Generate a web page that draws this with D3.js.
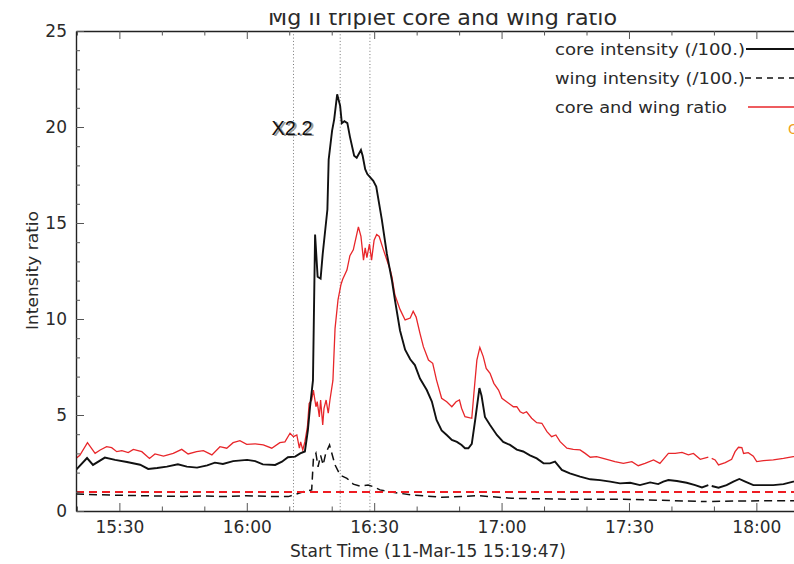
<!DOCTYPE html>
<html>
<head>
<meta charset="utf-8">
<script src="https://cdn.jsdelivr.net/npm/d3@7"></script>
<style>
  html, body { margin: 0; padding: 0; background: #fff; overflow: hidden; }
  svg text { font-family: "DejaVu Sans", sans-serif; fill: #2a2a2a; }
</style>
</head>
<body>
<div id="app"></div>
<script>
// minutes after the start time (11-Mar-15 15:19:47)
const startTime = new Date(2015, 2, 11, 15, 19, 47)

const coreMin = [0,2.6,4.0,6.8,9.2,12.0,15.1,17.0,19.1,21.4,24.0,26.1,28.5,30.9,32.7,34.6,37.0,40.3,42.2,44.0,
  46.9,48.5,49.9,51.6,52.8,53.9,54.6,55.1,55.8,56.3,56.9,57.6,58.1,59.2,59.5,60.3,60.8,61.5,62.2,62.6,
  63.2,63.9,64.5,65.5,66.1,67.1,67.5,68.1,68.6,70.0,70.7,72.0,73.2,74.4,75.1,76.3,77.5,78.7,79.8,81.0,
  82.6,83.8,84.9,86.1,87.3,88.5,89.7,90.8,91.6,92.4,93.2,94.0,95.0,95.5,96.3,97.5,99.1,100.6,102.2,103.8,
  105.3,106.9,108.5,110.1,111.6,112.8,114.4,116.3,118.7,121.1,123.4,125.8,128.1,130.5,132.8,135.2,137.1,138.3,139.5,141.5,
  143.8,145.8,147.4,148.9,149.3,149.7,151.3,153.2,154.8,156.2,157.6,159.5,161.9,164.2,166.6,168.9,171.0]
const coreVal = [2.14,2.76,2.4,2.78,2.66,2.55,2.41,2.19,2.24,2.31,2.43,2.31,2.26,2.38,2.52,2.45,2.6,2.66,2.6,2.43,
  2.4,2.57,2.8,2.83,3.0,3.1,4.2,5.4,6.8,14.4,12.2,12.1,13.4,15.7,18.3,19.8,20.4,21.7,21.1,20.2,
  20.3,20.2,19.5,18.5,18.4,18.8,18.5,17.8,17.55,17.2,16.9,15.2,13.4,12.0,11.0,9.4,8.4,7.9,7.6,6.9,
  6.3,5.7,4.74,4.2,3.96,3.7,3.6,3.44,3.27,3.27,3.5,4.74,6.4,6.0,4.9,4.48,3.96,3.6,3.44,3.2,
  3.1,2.9,2.74,2.48,2.48,2.57,2.14,1.96,1.79,1.65,1.61,1.53,1.44,1.47,1.35,1.49,1.4,1.53,1.61,1.56,
  1.47,1.35,1.23,1.35,null,1.3,1.21,1.35,1.53,1.67,1.53,1.35,1.35,1.35,1.4,1.53,1.55]

const wingMin = [0,5,10,15,20,25,30,35,40,45,50,51.5,53.5,55.5,55.9,56.5,57.0,57.6,58.2,58.8,
  59.7,61.0,62.2,63.8,65.3,66.9,68.8,70.0,71.6,74.0,76.3,79.4,82.6,86.1,94.7,102.6,113.6,120.7,128.9,140.7,
  148.5,149.3,149.8,156.4,168.2,171.0]
const wingVal = [0.88,0.85,0.82,0.8,0.78,0.76,0.78,0.75,0.8,0.76,0.75,0.85,1.0,1.1,2.7,3.0,2.3,2.9,2.4,3.0,
  3.44,2.4,1.87,1.7,1.4,1.3,1.35,1.27,1.1,1.0,0.92,0.83,0.78,0.71,0.8,0.66,0.62,0.61,0.61,0.54,
  0.49,null,0.5,0.52,0.54,0.54]

const ratioMin = [0.0,0.9,2.7,4.5,5.7,7.2,8.4,9.6,10.8,12.3,13.5,15.5,17.3,18.6,20.6,22.9,24.9,26.4,28.4,30.0,
  32.0,33.9,35.5,37.0,38.6,40.2,42.2,44.1,46.1,48.0,49.2,50.4,51.2,52.0,52.6,52.9,53.4,53.9,54.5,54.9,
  55.5,55.9,56.5,56.8,57.3,57.6,58.1,58.4,58.9,59.4,59.8,60.5,61.0,61.7,62.4,62.8,63.8,64.5,65.3,66.5,
  67.1,67.7,68.1,68.5,69.1,69.6,70.2,70.8,71.4,72.4,74.0,74.4,75.1,76.3,77.5,78.7,79.4,80.1,81.0,81.8,
  83.0,84.0,84.9,86.1,87.3,88.5,89.5,90.3,90.8,91.6,93.2,93.7,94.4,95.1,95.9,96.6,97.5,98.4,99.5,100.3,
  101.4,103.0,103.8,104.6,105.3,106.1,107.3,108.5,109.7,110.9,112.0,113.0,114.0,115.6,117.1,118.7,119.9,121.1,122.6,125.0,
  126.9,128.9,130.9,132.4,134.0,136.0,137.5,139.5,141.1,142.7,144.2,145.4,147.0,148.9,149.3,149.7,150.5,151.3,152.9,154.4,
  155.2,156.0,156.8,157.2,158.3,159.5,160.3,161.9,164.2,166.6,168.9,171.0]
const ratioVal = [2.74,2.9,3.56,3.0,3.18,3.35,3.3,3.09,3.14,3.04,3.21,3.09,2.74,2.97,2.86,3.0,3.21,2.97,3.09,3.14,
  2.92,3.35,3.27,3.56,3.66,3.47,3.5,3.44,3.27,3.56,3.6,4.05,3.87,3.96,3.27,3.6,3.18,3.6,4.39,5.6,
  5.78,6.3,5.43,5.7,4.9,5.78,4.48,5.35,5.78,5.09,5.78,6.8,9.5,11.0,11.8,12.07,12.55,13.3,13.6,14.8,
  14.3,13.07,13.7,13.2,13.9,13.07,14.1,14.4,14.3,13.6,12.55,12.2,11.25,10.5,9.95,10.05,10.4,10.1,9.25,8.56,
  7.86,7.69,6.82,5.87,5.69,5.43,5.69,5.78,5.35,4.91,4.83,6.13,7.86,8.52,8.04,7.43,7.17,6.65,6.3,5.87,
  5.69,5.43,5.43,5.17,5.09,5.17,4.83,4.6,4.57,4.13,3.87,3.96,3.61,3.27,3.21,3.18,3.0,2.8,2.83,2.69,
  2.57,2.48,2.57,2.36,2.48,2.66,2.48,3.0,3.0,3.05,2.92,3.0,2.69,2.8,null,2.74,2.66,2.4,2.52,2.69,
  3.09,3.32,3.3,3.0,3.04,2.86,2.57,2.62,2.66,2.74,2.83,2.85]

const ratioRef = 1.0
const flareTimes = ["16:11", "16:22", "16:29"]
const flareLabel = "X2.2"
const yTicks = [0, 5, 10, 15, 20, 25]
const legendNames = ["core intensity (/100.)", "wing intensity (/100.)", "core and wing ratio"]

const W = 794, H = 564
const pLeft = 76, pRight = 820, pTop = 31, pBottom = 511
const spanMin = 175.2

const toDate = m => new Date(startTime.getTime() + m * 60000)
const clock = s => { const [h, m] = s.split(':').map(Number); return new Date(2015, 2, 11, h, m, 0) }

const x = d3.scaleTime().domain([startTime, toDate(spanMin)]).range([pLeft, pRight])
const y = d3.scaleLinear().domain([0, 25]).range([pBottom, pTop])

const svg = d3.select('#app').append('svg')
  .attr('width', W).attr('height', H).attr('viewBox', [0, 0, W, H])

const defs = svg.append('defs')
defs.append('clipPath').attr('id', 'plot')
  .append('rect').attr('x', pLeft).attr('y', pTop).attr('width', pRight - pLeft).attr('height', pBottom - pTop)
// the title is cut off at the top in the original figure
defs.append('clipPath').attr('id', 'titleclip')
  .append('rect').attr('x', 0).attr('y', 13).attr('width', W).attr('height', 18)

const zip = (ts, vs) => ts.map((t, i) => ({ t: toDate(t), v: vs[i] }))
const line = d3.line().defined(d => d.v != null).x(d => x(d.t)).y(d => y(d.v))

const plot = svg.append('g').attr('clip-path', 'url(#plot)')

// flare start / peak / end
plot.selectAll('line.flare')
  .data(flareTimes).enter().append('line')
  .attr('class', 'flare')
  .attr('x1', d => x(clock(d))).attr('x2', d => x(clock(d)))
  .attr('y1', pTop).attr('y2', pBottom)
  .attr('stroke', '#777').attr('stroke-width', 1).attr('stroke-dasharray', '1,2.3')

plot.append('path').datum(zip(wingMin, wingVal))
  .attr('d', line).attr('fill', 'none')
  .attr('stroke', '#111').attr('stroke-width', 1.5).attr('stroke-dasharray', '8,5')

plot.append('line')
  .attr('x1', pLeft).attr('x2', pRight).attr('y1', y(ratioRef)).attr('y2', y(ratioRef))
  .attr('stroke', '#ee1c22').attr('stroke-width', 1.5).attr('stroke-dasharray', '8,5')
  .attr('shape-rendering', 'crispEdges')

plot.append('path').datum(zip(ratioMin, ratioVal))
  .attr('d', line).attr('fill', 'none')
  .attr('stroke', '#e8262a').attr('stroke-width', 1.3)

plot.append('path').datum(zip(coreMin, coreVal))
  .attr('d', line).attr('fill', 'none')
  .attr('stroke', '#111').attr('stroke-width', 1.9)

// axes
const major = d3.timeMinute.every(30).range(startTime, toDate(spanMin))
const minor = d3.timeMinute.every(10).range(startTime, toDate(spanMin)).filter(d => d.getMinutes() % 30 != 0)
const fmt = d3.timeFormat('%H:%M')

function styleAxis(g) {
  g.select('.domain').attr('stroke', '#222').attr('stroke-width', 1.4)
  g.selectAll('.tick line').attr('stroke', '#555')
  g.selectAll('.tick text').style('font-size', '17px').attr('fill', '#2a2a2a')
}

svg.append('g').attr('transform', `translate(0,${pBottom})`)
  .call(d3.axisBottom(x).tickValues(major).tickFormat(fmt).tickSizeInner(-8).tickSizeOuter(0).tickPadding(10))
  .call(styleAxis)
svg.append('g').attr('transform', `translate(0,${pBottom})`)
  .call(d3.axisBottom(x).tickValues(minor).tickFormat('').tickSizeInner(-4.5).tickSizeOuter(0))
  .call(g => g.select('.domain').remove()).call(styleAxis)
svg.append('g').attr('transform', `translate(0,${pTop})`)
  .call(d3.axisTop(x).tickValues(major).tickFormat('').tickSizeInner(-8).tickSizeOuter(0))
  .call(styleAxis)
svg.append('g').attr('transform', `translate(0,${pTop})`)
  .call(d3.axisTop(x).tickValues(minor).tickFormat('').tickSizeInner(-4.5).tickSizeOuter(0))
  .call(g => g.select('.domain').remove()).call(styleAxis)

svg.append('g').attr('transform', `translate(${pLeft},0)`)
  .call(d3.axisLeft(y).tickValues(yTicks).tickSizeInner(-8).tickSizeOuter(0).tickPadding(9))
  .call(styleAxis)
svg.append('g').attr('transform', `translate(${pLeft},0)`)
  .call(d3.axisLeft(y).tickValues(d3.range(0, 26).filter(v => v % 5 != 0)).tickFormat('').tickSizeInner(-4).tickSizeOuter(0))
  .call(g => g.select('.domain').remove()).call(styleAxis)

// titles
svg.append('text').attr('x', 268).attr('y', 25)
  .attr('clip-path', 'url(#titleclip)')
  .attr('textLength', 349).attr('lengthAdjust', 'spacingAndGlyphs')
  .style('font-size', '22px').text('Mg II triplet core and wing ratio')

svg.append('text').attr('x', 290).attr('y', 557)
  .attr('textLength', 276).attr('lengthAdjust', 'spacingAndGlyphs')
  .style('font-size', '17px').text('Start Time (11-Mar-15 15:19:47)')

svg.append('text').attr('transform', 'translate(38,330) rotate(-90)')
  .attr('textLength', 119).attr('lengthAdjust', 'spacingAndGlyphs')
  .style('font-size', '16px').text('Intensity ratio')

// flare class label, drawn twice like the original
const lx = x(clock(flareTimes[0])) - 22
svg.append('text').attr('x', lx + 2).attr('y', 136)
  .style('font-family', '"Liberation Sans", Arial, sans-serif').style('font-size', '20px')
  .style('fill', '#999').text(flareLabel)
svg.append('text').attr('x', lx).attr('y', 135)
  .style('font-family', '"Liberation Sans", Arial, sans-serif').style('font-size', '20px')
  .style('fill', '#111').text(flareLabel)

// legend
const legend = svg.append('g')
const rows = [
  { name: legendNames[0], color: '#111', dash: null, y: 55, x1: 746, w: 1.8, len: 190 },
  { name: legendNames[1], color: '#111', dash: '6,5', y: 84, x1: 745, w: 1.5, len: 190 },
  { name: legendNames[2], color: '#e8262a', dash: null, y: 113, x1: 748, w: 1.3, len: 172 },
]
legend.selectAll('text').data(rows).enter().append('text')
  .attr('x', 555).attr('y', d => d.y)
  .attr('textLength', d => d.len).attr('lengthAdjust', 'spacingAndGlyphs')
  .style('font-size', '16px').text(d => d.name)
legend.selectAll('line').data(rows).enter().append('line')
  .attr('x1', d => d.x1).attr('x2', 800).attr('y1', d => d.y - 6).attr('y2', d => d.y - 6)
  .attr('stroke', d => d.color).attr('stroke-width', d => d.w)
  .attr('stroke-dasharray', d => d.dash)

svg.append('text').attr('x', 788).attr('y', 134)
  .style('font-size', '14px').style('fill', '#f0a020').text('G')
</script>
</body>
</html>
